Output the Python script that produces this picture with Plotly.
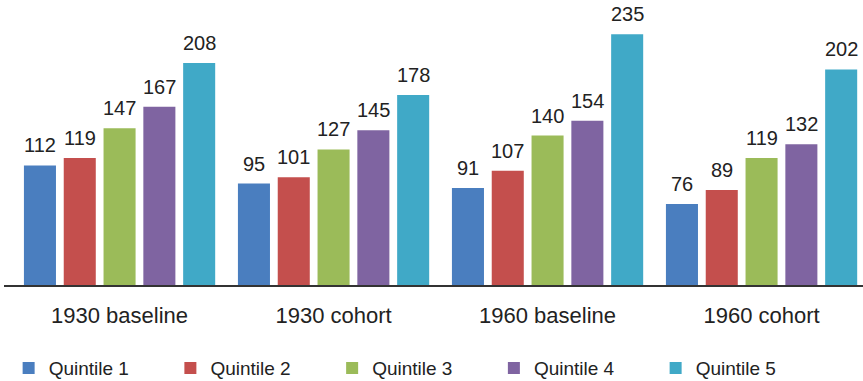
import plotly.graph_objects as go

categories = ["1930 baseline", "1930 cohort", "1960 baseline", "1960 cohort"]
series_names = ["Quintile 1", "Quintile 2", "Quintile 3", "Quintile 4", "Quintile 5"]
q1 = [112, 95, 91, 76]
q2 = [119, 101, 107, 89]
q3 = [147, 127, 140, 119]
q4 = [167, 145, 154, 132]
q5 = [208, 178, 235, 202]
colors = ["#4A7EBF", "#C44F4D", "#9BBB59", "#7F64A1", "#40A9C7"]

series = [q1, q2, q3, q4, q5]
xpos = list(range(len(categories)))
FONT = "Liberation Sans, Arial, Helvetica, sans-serif"
BARGAP = 0.07
nser = len(series)
slot = (1 - BARGAP) / nser

fig = go.Figure()
annotations = []
for k, (name, vals, col) in enumerate(zip(series_names, series, colors)):
    fig.add_trace(go.Bar(
        x=xpos, y=vals, name=name,
        marker=dict(color=col, line=dict(width=0)),
    ))
    off = (k - (nser - 1) / 2) * slot
    for xi, v in zip(xpos, vals):
        annotations.append(dict(
            x=xi + off, y=v, xref="x", yref="y", text=str(v),
            showarrow=False, yanchor="bottom", xanchor="center", yshift=7,
            font=dict(family=FONT, size=20, color="#222222"),
        ))

fig.update_layout(
    template="none",
    width=863, height=381,
    margin=dict(l=4, r=0, t=10, b=96, autoexpand=False),
    paper_bgcolor="white", plot_bgcolor="white",
    barmode="group", bargap=BARGAP, bargroupgap=0.195,
    font=dict(family=FONT, size=20, color="#222222"),
    showlegend=True,
    legend=dict(orientation="h", xref="container", yref="container",
                x=0.01, xanchor="left", y=0.034, yanchor="middle",
                font=dict(family=FONT, size=19, color="#222222"),
                entrywidth=116.75, entrywidthmode="pixels", itemwidth=30,
                traceorder="normal", bgcolor="rgba(0,0,0,0)", borderwidth=0),
    xaxis=dict(
        tickmode="array", tickvals=xpos, ticktext=categories,
        range=[-0.54, 3.474], automargin=False,
        showline=True, linecolor="#333333", linewidth=2,
        showgrid=False, zeroline=False,
        ticks="outside", ticklen=10, tickcolor="rgba(0,0,0,0)",
        tickfont=dict(family=FONT, size=22, color="#222222"),
    ),
    yaxis=dict(range=[0, 257.7], visible=False, showgrid=False, zeroline=False, automargin=False),
    annotations=annotations,
)

fig.write_html(
    "out.html",
    config={"displayModeBar": False},
    post_script="document.body.style.margin='0px';document.body.style.overflow='hidden';",
)
